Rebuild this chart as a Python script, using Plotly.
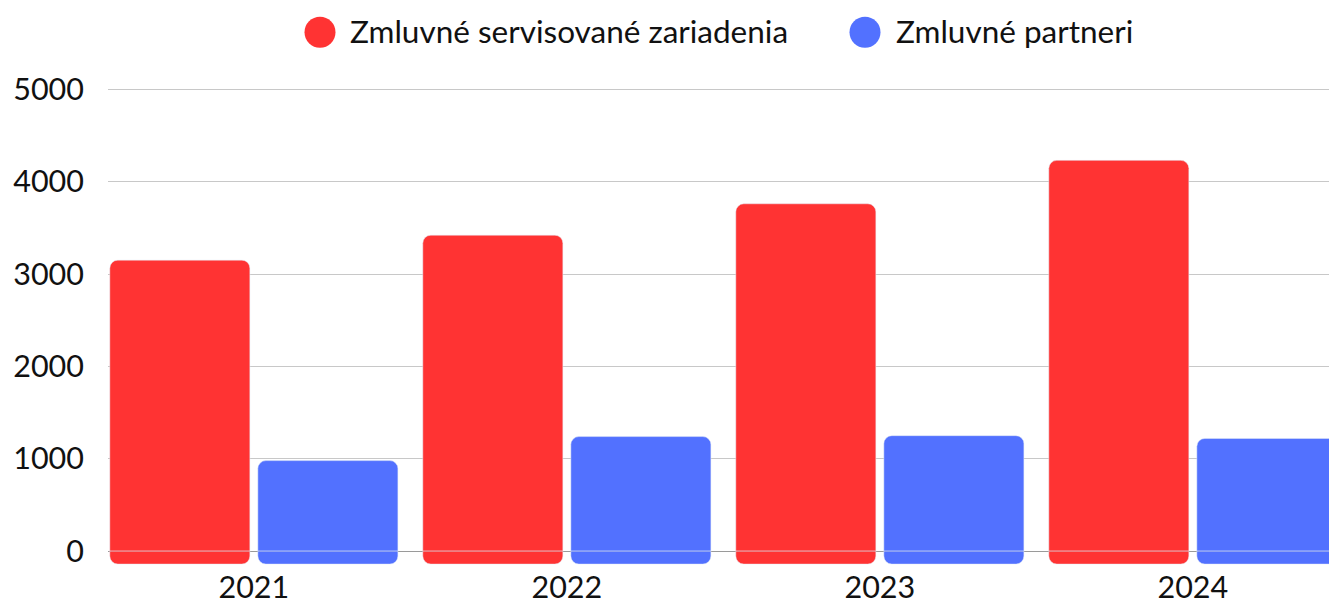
import plotly.graph_objects as go

# Data
years = ["2021", "2022", "2023", "2024"]
servisovane = [3150, 3420, 3760, 4230]
partneri = [980, 1240, 1250, 1220]
series_names = ["Zmluvné servisované zariadenia", "Zmluvné partneri"]
y_ticks = [0, 1000, 2000, 3000, 4000, 5000]

RED = "#FF3333"
BLUE = "#5271FF"
FONT = "Lato, 'Open Sans', sans-serif"
FOOT = -140  # rounded foot drawn below the baseline under each bar

fig = go.Figure()
for name, vals, color, grp in [
    (series_names[0], servisovane, RED, "a"),
    (series_names[1], partneri, BLUE, "b"),
]:
    fig.add_trace(go.Bar(
        x=years, y=vals, name=name, marker_color=color,
        offsetgroup=grp, showlegend=False,
    ))
    fig.add_trace(go.Bar(
        x=years, y=[FOOT] * len(years), marker_color=color,
        offsetgroup=grp, showlegend=False, hoverinfo="skip",
    ))

# Pixel layout of the plotting area
W, H = 1329, 603
L, B = 108, 38
TOP_GRID = 89          # pixel row of the 5000 gridline
Y_MIN, Y_MAX = -150, 5100
plot_w = W - L
bottom_px = H - B
px_per_unit = (bottom_px - TOP_GRID) / (5000 - Y_MIN)
T = TOP_GRID - (Y_MAX - 5000) * px_per_unit
plot_h = bottom_px - T


def px_x(p):
    return (p - L) / plot_w


def px_y(p):
    return (bottom_px - p) / plot_h


# Legend: colored circles with labels above the plot
legend_items = [(series_names[0], RED, 320, 351), (series_names[1], BLUE, 865, 897)]
for label, color, cx, tx in legend_items:
    fig.add_shape(
        type="circle", xref="paper", yref="paper",
        xsizemode="pixel", ysizemode="pixel",
        xanchor=px_x(cx), yanchor=px_y(32),
        x0=-15.5, x1=15.5, y0=-15.5, y1=15.5,
        fillcolor=color, line_width=0,
    )
    fig.add_annotation(
        text=label, xref="paper", yref="paper",
        x=px_x(tx - 3), y=px_y(31), xanchor="left", yanchor="middle",
        showarrow=False, font=dict(family=FONT, size=31.5, color="#111111"),
    )

fig.update_layout(
    width=W, height=H,
    margin=dict(l=L, r=0, t=T, b=B),
    paper_bgcolor="white", plot_bgcolor="white",
    barmode="group", bargap=0.054, bargroupgap=0.054,
    barcornerradius=8,
    font=dict(family=FONT, size=30.5, color="#111111"),
    showlegend=False,
)
fig.update_xaxes(
    range=[-0.466, 3.435], showgrid=False, showline=False,
    ticks="", ticklabelstandoff=1, automargin=False,
    tickfont=dict(family=FONT, size=30.5, color="#111111"),
)
fig.update_yaxes(
    range=[Y_MIN, Y_MAX], tickvals=y_ticks,
    showgrid=True, gridcolor="#C8C8C8", gridwidth=1.3,
    zeroline=True, zerolinecolor="#9A9A9A", zerolinewidth=1.3,
    showline=False, ticks="", ticklabelstandoff=23, automargin=False,
    tickfont=dict(family=FONT, size=30.5, color="#111111"),
)

fig.write_html("out.html")
